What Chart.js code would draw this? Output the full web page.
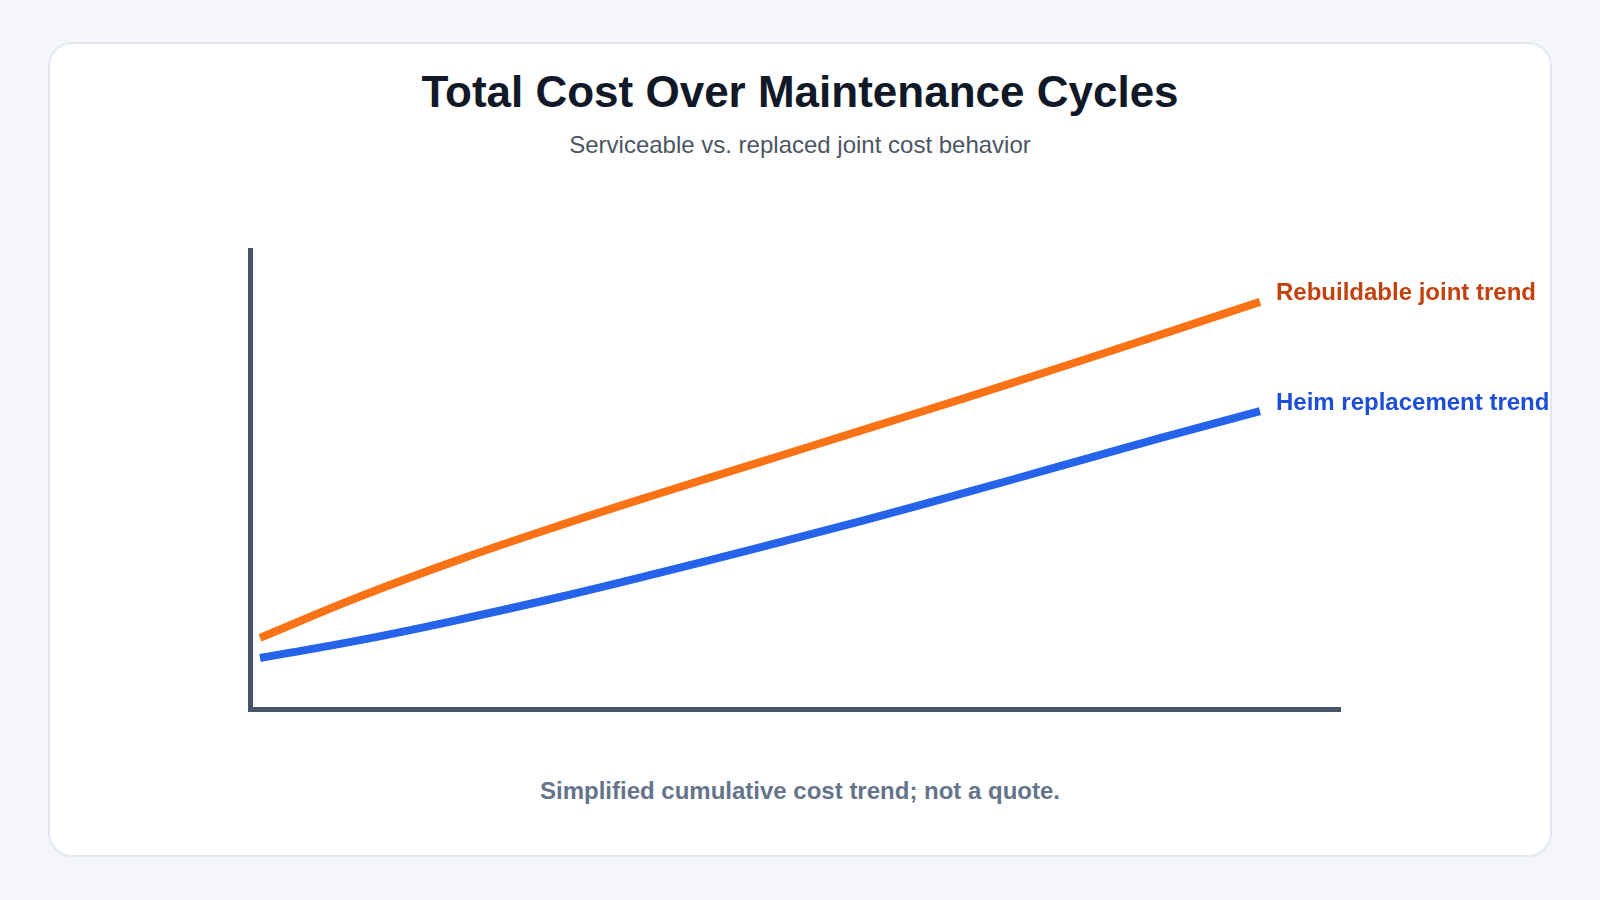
<!DOCTYPE html>
<html>
<head>
<meta charset="utf-8">
<script src="https://cdn.jsdelivr.net/npm/chart.js@4"></script>
<style>
  html, body { margin: 0; padding: 0; }
  body {
    width: 1600px; height: 900px; background: #f4f6fa;
    font-family: "Liberation Sans", Arial, sans-serif; position: relative; overflow: hidden;
  }
  .card {
    position: absolute; left: 48px; top: 42px; width: 1500px; height: 811px;
    background: #fff; border: 2px solid #e2e8f0; border-radius: 24px;
  }
  .title {
    position: absolute; left: 0; width: 1600px; top: 67px; text-align: center;
    font-size: 44px; font-weight: bold; color: #111827;
  }
  .subtitle {
    position: absolute; left: 0; width: 1600px; top: 131px; text-align: center;
    font-size: 24px; color: #4b5563;
  }
  .note {
    position: absolute; left: 0; width: 1600px; top: 777px; text-align: center;
    font-size: 24px; font-weight: bold; color: #64748b;
  }
  .wrap { position: absolute; left: 0; top: 0; width: 1600px; height: 900px; }
</style>
</head>
<body>
<div class="card"></div>
<div class="title">Total Cost Over Maintenance Cycles</div>
<div class="subtitle">Serviceable vs. replaced joint cost behavior</div>
<div class="note">Simplified cumulative cost trend; not a quote.</div>
<div class="wrap"><canvas id="costChart"></canvas></div>
<script>
// maintenance cycles and relative cumulative cost
var cycles = [0, 1, 2, 3, 4, 5, 6, 7, 8, 9, 10];
var rebuildableCost = [15.5, 24.5, 32.6, 40.0, 47.0, 53.8, 60.6, 67.4, 74.4, 81.5, 88.7];
var heimCost = [11.1, 15.0, 19.5, 24.4, 29.7, 35.2, 40.9, 46.8, 52.9, 59.0, 64.9];
var seriesNames = ["Rebuildable joint trend", "Heim replacement trend"];

var endLabels = {
  id: "endLabels",
  afterDatasetsDraw: function (chart) {
    var ctx = chart.ctx;
    ctx.save();
    ctx.font = "bold 24px 'Liberation Sans', Arial, sans-serif";
    ctx.textBaseline = "middle";
    ctx.textAlign = "left";
    chart.data.datasets.forEach(function (ds, i) {
      var pts = chart.getDatasetMeta(i).data;
      var last = pts[pts.length - 1];
      ctx.fillStyle = ds.labelColor;
      ctx.fillText(ds.label, last.x + 16, last.y - 8);
    });
    ctx.restore();
  }
};

var ctx = document.getElementById("costChart").getContext("2d");
var chart = new Chart(ctx, {
  type: "line",
  data: {
    labels: cycles,
    datasets: [
      {
        label: seriesNames[0],
        data: cycles.map(function (c, i) { return { x: c, y: rebuildableCost[i] }; }),
        borderColor: "#f97316",
        labelColor: "#c2410c",
        borderWidth: 8,
        borderCapStyle: "butt",
        pointRadius: 0,
        tension: 0.4
      },
      {
        label: seriesNames[1],
        data: cycles.map(function (c, i) { return { x: c, y: heimCost[i] }; }),
        borderColor: "#2563eb",
        labelColor: "#1d4ed8",
        borderWidth: 8,
        borderCapStyle: "butt",
        pointRadius: 0,
        tension: 0.4
      }
    ]
  },
  options: {
    responsive: true,
    maintainAspectRatio: false,
    animation: false,
    layout: { padding: { left: 250, right: 260, top: 250, bottom: 191 } },
    plugins: { legend: { display: false }, tooltip: { enabled: false } },
    scales: {
      x: {
        type: "linear", min: -0.1, max: 10.8,
        ticks: { display: false },
        grid: { display: false, drawTicks: false },
        border: { display: true, color: "#475569", width: 5 },
        afterFit: function (s) { s.height = 0; }
      },
      y: {
        min: 0, max: 100,
        ticks: { display: false },
        grid: { display: false, drawTicks: false },
        border: { display: true, color: "#475569", width: 5 },
        afterFit: function (s) { s.width = 0; }
      }
    }
  },
  plugins: [endLabels]
});
</script>
</body>
</html>
